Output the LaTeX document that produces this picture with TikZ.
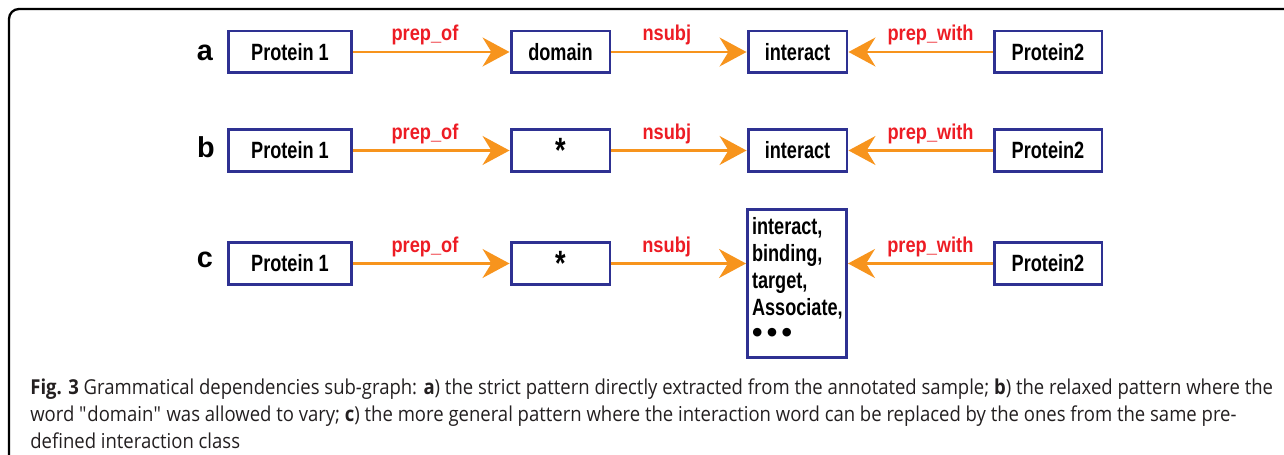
\documentclass[tikz,border=0pt]{standalone}
\usepackage{fontspec}
\setmainfont[FakeStretch=0.9]{Open Sans}
\newfontfamily\boxfont[FakeStretch=0.77]{Liberation Sans}
\newfontfamily\labelfont[FakeStretch=0.85]{Liberation Sans}
\newfontfamily\rowfont{Liberation Sans}
\usetikzlibrary{arrows.meta}
\definecolor{boxblue}{HTML}{2E3192}
\definecolor{arroworange}{HTML}{F7941D}
\definecolor{labelred}{HTML}{ED1C24}
\definecolor{captiongray}{HTML}{231F20}

\begin{document}
\begin{tikzpicture}[x=0.02cm, y=-0.02cm,
    word/.style={draw=boxblue, line width=1.7pt, inner sep=0pt,
      minimum height=0.84cm, font=\boxfont\bfseries\fontsize{13.4}{15.5}\selectfont},
    rowletter/.style={inner sep=0pt, font=\rowfont\bfseries\fontsize{16.4}{18}\selectfont},
    dep/.style={draw=arroworange, line width=1.7pt,
      -{Stealth[length=15.3pt, width=16.4pt, inset=5pt]}},
    deplabel/.style={above=3pt, inner sep=0pt, text=labelred,
      font=\labelfont\bfseries\fontsize{12.2}{13}\selectfont}]
  \useasboundingbox (0,0) rectangle (1284,455);

  % frame
  \draw[line width=1.3pt, rounded corners=0.2cm] (9,455) -- (9,9) -- (1284,9);

  % row a
  \node[rowletter] (la) at (205,52.5) {a};
  \node[word, minimum width=2.46cm] (p1a) at (290,52) {Protein 1};
  \node[word, minimum width=1.98cm] (doma) at (560.5,52) {domain};
  \node[word, minimum width=1.98cm] (inta) at (797.5,52) {interact};
  \node[word, minimum width=2.16cm] (p2a) at (1048,52) {Protein2};
  \draw[dep] (p1a) -- node[deplabel, pos=0.46] {prep\_of} (doma);
  \draw[dep] (doma) -- node[deplabel, pos=0.41] {nsubj} (inta);
  \draw[dep] (p2a) -- node[deplabel, pos=0.43] {prep\_with} (inta);

  % row b
  \node[rowletter] (lb) at (206,147.5) {b};
  \node[word, minimum width=2.46cm] (p1b) at (290,150.5) {Protein 1};
  \node[word, minimum width=1.98cm] (starb) at (560.5,150.5) {\raisebox{-0.6ex}{\fontsize{20}{20}\selectfont *}};
  \node[word, minimum width=1.98cm] (intb) at (797.5,150.5) {interact};
  \node[word, minimum width=2.16cm] (p2b) at (1048,150.5) {Protein2};
  \draw[dep] (p1b) -- node[deplabel, pos=0.46] {prep\_of} (starb);
  \draw[dep] (starb) -- node[deplabel, pos=0.41] {nsubj} (intb);
  \draw[dep] (p2b) -- node[deplabel, pos=0.43] {prep\_with} (intb);

  % row c
  \node[rowletter] (lc) at (205,260) {c};
  \node[word, minimum width=2.46cm] (p1c) at (290,263.5) {Protein 1};
  \node[word, minimum width=1.98cm] (starc) at (560.5,263.5) {\raisebox{-0.6ex}{\fontsize{20}{20}\selectfont *}};
  \node[word, minimum width=1.98cm, minimum height=2.96cm, align=left,
        text width=1.8cm] (intc) at (797,283.5)
    {interact,\\ binding,\\ target,\\ Associate,\\
     {\rowfont\fontsize{17}{15.5}\selectfont\textbullet\kern2.5pt\textbullet\kern2.5pt\textbullet}\rule[-4pt]{0pt}{0pt}};
  \node[word, minimum width=2.16cm] (p2c) at (1048,263.5) {Protein2};
  \draw[dep] (p1c) -- node[deplabel, pos=0.46] {prep\_of} (starc);
  \draw[dep] (starc) -- node[deplabel, pos=0.41] {nsubj} (starc.east -| intc.west);
  \draw[dep] (p2c) -- node[deplabel, pos=0.43] {prep\_with} (p2c.west -| intc.east);

  % caption
  \node[anchor=north west, inner sep=0pt, align=left, text=captiongray,
        font=\fontsize{11.7}{15.6}\selectfont] (cap) at (30,378)
    {\textbf{Fig. 3} Grammatical dependencies sub-graph: \textbf{a}) the strict pattern directly extracted from the annotated sample; \textbf{b}) the relaxed pattern where the\\
     word \textquotedbl domain\textquotedbl{} was allowed to vary; \textbf{c}) the more general pattern where the interaction word can be replaced by the ones from the same pre-\\
     defined interaction class};
\end{tikzpicture}
\end{document}
